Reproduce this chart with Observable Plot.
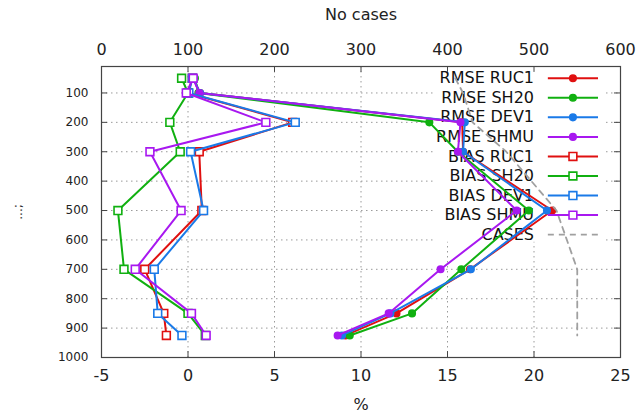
<!DOCTYPE html>
<html>
<head>
<meta charset="utf-8">
<script src="https://cdn.jsdelivr.net/npm/d3@7"></script>
<script src="https://cdn.jsdelivr.net/npm/@observablehq/plot@0.6"></script>
<style>
  html, body { margin: 0; padding: 0; background: #fff; }
  #chart { width: 638px; height: 412px; }
</style>
</head>
<body>
<div id="chart"></div>
<script>
// ---- data ----
const levels = [50, 100, 200, 300, 500, 700, 850, 925];

const rmseRUC1 = [0.3, 0.7, 15.85, 15.9, 21.05, 16.3, 12.05, 9.1];
const rmseSH20 = [0.4, 0.6, 13.95, 15.6, 19.7, 15.8, 12.95, 9.35];
const rmseDEV1 = [0.3, 0.7, 16.0, 15.9, 20.75, 16.35, 11.7, 8.9];
const rmseSHMU = [0.3, 0.65, 15.75, 15.6, 19.0, 14.6, 11.6, 8.65];

const biasRUC1 = [0.25, 0.0, 6.05, 0.65, 0.8, -2.5, -1.4, -1.25];
const biasSH20 = [-0.37, 0.0, -1.05, -0.45, -4.05, -3.7, 0.0, 1.0];
const biasDEV1 = [0.25, 0.05, 6.2, 0.15, 0.9, -1.95, -1.75, -0.35];
const biasSHMU = [0.3, -0.1, 4.5, -2.2, -0.4, -3.05, 0.2, 1.05];

const cases = [409, 418, 429, 468, 526, 550, 550, 550];

const seriesNames = ["RMSE RUC1", "RMSE SH20", "RMSE DEV1", "RMSE SHMU",
                     "BIAS RUC1", "BIAS SH20", "BIAS DEV1", "BIAS SHMU"];
const seriesValues = [rmseRUC1, rmseSH20, rmseDEV1, rmseSHMU,
                      biasRUC1, biasSH20, biasDEV1, biasSHMU];
const seriesColors = ["#e01010", "#10b010", "#1a7ae8", "#a818f0",
                      "#e01010", "#10b010", "#1a7ae8", "#a818f0"];
const casesLabel = "CASES";

const xTicks = [-5, 0, 5, 10, 15, 20, 25];
const yTicks = [100, 200, 300, 400, 500, 600, 700, 800, 900, 1000];
const xGrid = [0, 5, 10, 15, 20];
const yGrid = [100, 200, 300, 400, 500, 600, 700, 800, 900];

// ---- build ----
const casesToX = c => c / 20 - 5;   // top axis 0..600 shares the -5..25 scale
const colorOf = Object.fromEntries(seriesNames.map((n, i) => [n, seriesColors[i]]));

const marks = [];

// grid
marks.push(Plot.ruleY(yGrid, {stroke: "#9a9a9a", strokeWidth: 1, strokeDasharray: "1.5,3.5"}));
marks.push(Plot.ruleX(xGrid, {stroke: "#9a9a9a", strokeWidth: 1, strokeDasharray: "1.5,3.5"}));

// legend layout (in scale units)
const legendNames = [...seriesNames, casesLabel];
const legendRows = legendNames.map((name, i) => ({name, i, y: 50 + 66.5 * i}));
marks.push(Plot.rect([0], {x1: 14.3, x2: 24.05, y1: 10, y2: 608, fill: "white"}));
marks.push(Plot.text(legendRows, {x: 20, y: "y", text: "name", textAnchor: "end",
  lineAnchor: "middle", fill: "#111", fontSize: 16}));

// cases (dashed)
const casesData = levels.map((p, j) => ({p, x: casesToX(cases[j])}));

// data series
seriesNames.forEach((name, k) => {
  const data = levels.map((p, j) => ({p, v: seriesValues[k][j]}));
  const col = seriesColors[k];
  marks.push(Plot.line(data, {x: "v", y: "p", stroke: col, strokeWidth: 2}));
  if (k < 4) {
    marks.push(Plot.dot(data, {x: "v", y: "p", r: 3.3, fill: col, stroke: col}));
  } else {
    marks.push(Plot.dot(data, {x: "v", y: "p", symbol: "square", r: 4.4, fill: "white", stroke: col, strokeWidth: 1.6}));
  }
});
marks.push(Plot.line(casesData, {x: "x", y: "p", stroke: "#a0a0a0", strokeWidth: 1.8, strokeDasharray: "6,5"}));

// legend samples
legendRows.forEach(row => {
  const isCases = row.name === casesLabel;
  const col = isCases ? "#a0a0a0" : colorOf[row.name];
  marks.push(Plot.link([row], {x1: () => 20.8, x2: () => 23.7, y1: "y", y2: "y",
    stroke: col, strokeWidth: isCases ? 1.8 : 2, strokeDasharray: isCases ? "6,5" : null}));
  if (!isCases) {
    if (row.i < 4) {
      marks.push(Plot.dot([row], {x: () => 22.25, y: "y", r: 3.3, fill: col, stroke: col}));
    } else {
      marks.push(Plot.dot([row], {x: () => 22.25, y: "y", symbol: "square", r: 4.4, fill: "white", stroke: col, strokeWidth: 1.6}));
    }
  }
});

// frame and inward ticks
marks.push(Plot.frame({stroke: "#444", strokeWidth: 1.2}));
marks.push(Plot.ruleY(yTicks, {x1: -5, x2: -4.65, stroke: "#444"}));
marks.push(Plot.ruleY(yTicks, {x1: 25, x2: 24.65, stroke: "#444"}));
marks.push(Plot.ruleX(xTicks, {y1: 1000, y2: 980, stroke: "#444"}));
marks.push(Plot.ruleX(xTicks, {y1: 10, y2: 30, stroke: "#444"}));

// axes
marks.push(Plot.axisX({anchor: "bottom", ticks: xTicks, tickFormat: d => String(d), tickSize: 0, tickPadding: 12,
  label: "%", labelAnchor: "center", labelArrow: "none", labelOffset: 52}));
marks.push(Plot.axisX({anchor: "top", ticks: xTicks, tickFormat: d => String((d + 5) * 20), tickSize: 0, tickPadding: 12,
  label: "No cases", labelAnchor: "center", labelArrow: "none", labelOffset: 58}));
marks.push(Plot.axisY({anchor: "left", ticks: yTicks, tickFormat: d => String(d), tickSize: 0, tickPadding: 13,
  label: "...;", labelAnchor: "center", labelArrow: "none", labelOffset: 88, fontSize: 12}));

const chart = Plot.plot({
  width: 638, height: 412,
  marginLeft: 101, marginRight: 18, marginTop: 66, marginBottom: 55,
  style: {fontFamily: "DejaVu Sans", fontSize: "16px", color: "#222", background: "white"},
  x: {domain: [-5, 25]},
  y: {domain: [1000, 10]},
  marks
});
document.getElementById("chart").appendChild(chart);
</script>
</body>
</html>
